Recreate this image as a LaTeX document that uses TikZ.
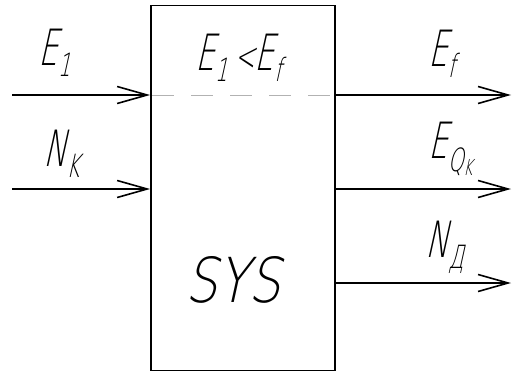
\documentclass[tikz,border=0pt]{standalone}
\usepackage{fontspec}
\newfontfamily\gost[FakeStretch=0.62,FakeSlant=0.22]{DejaVu Sans ExtraLight}
\newfontfamily\gostw[FakeStretch=0.82,FakeSlant=0.22]{DejaVu Sans ExtraLight}
\usetikzlibrary{arrows.meta}
\newcommand{\lbl}[2]{{\gost\fontsize{50}{50}\selectfont #1\raisebox{-11pt}{\fontsize{32}{32}\selectfont #2}}}
\begin{document}
\begin{tikzpicture}[x=1pt,y=-1pt,
  conn/.style={line width=1.8pt,-{Straight Barb[length=30pt,width=17pt,line width=1.6pt]}},
  sysbox/.style={draw,line width=1.8pt,minimum width=184pt,minimum height=365pt,inner sep=0pt},
  lab/.style={inner sep=0pt,anchor=base west}]
\useasboundingbox (0,0) rectangle (512,372);
\node[sysbox] (sys) at (243,188) {};
\coordinate (i1) at (12,95);
\coordinate (i2) at (12,189);
\coordinate (o1) at (511,95);
\coordinate (o2) at (511,189);
\coordinate (o3) at (511,283);
\draw[conn] (i1) -- (i1 -| sys.west);
\draw[conn] (i2) -- (i2 -| sys.west);
\draw[conn] (o1 -| sys.east) -- (o1);
\draw[conn] (o2 -| sys.east) -- (o2);
\draw[conn] (o3 -| sys.east) -- (o3);
\draw[gray!60,line width=1pt,dash pattern=on 22pt off 17pt,dash phase=-2pt] (i1 -| sys.west) -- (o1 -| sys.east);
\node[lab] (le1) at (38,65) {\lbl{E}{1}};
\node[lab] (lnk) at (43,166) {\lbl{N}{K}};
\node[lab] (lcond) at (195,70) {\lbl{E}{1}{\gost\fontsize{40}{40}\selectfont\,<}\lbl{E}{f}};
\node[lab] (lef) at (428,66) {\lbl{E}{f}};
\node[lab] (leq) at (428,158) {\lbl{E}{\raisebox{-2pt}{Q}\raisebox{-6pt}{\fontsize{22}{22}\selectfont K}}};
\node[lab] (lnd) at (425,257) {\lbl{N}{Д}};
\node[lab] (lsys) at (185,302) {\gostw\fontsize{62}{62}\selectfont SYS};
\end{tikzpicture}
\end{document}
